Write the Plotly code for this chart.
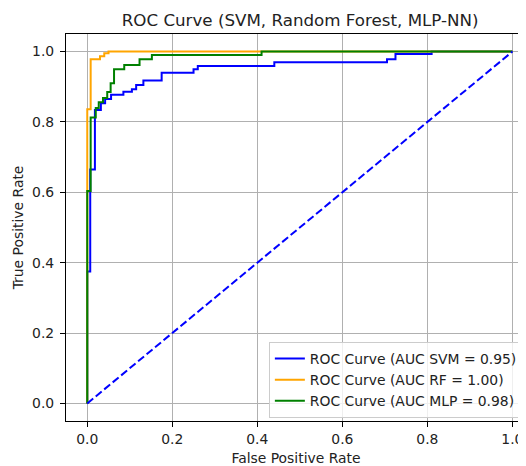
""" ROC curves of SVM, Random Forest and MLP-NN classifiers with plotly. """

import plotly.graph_objects as go

# corner points of each ROC curve (false positive rate, true positive rate)
fpr_svm = [0.0, 0.0, 0.007, 0.007, 0.018, 0.018, 0.032, 0.032, 0.042, 0.042,
           0.056, 0.056, 0.085, 0.085, 0.105, 0.105, 0.115, 0.115, 0.132, 0.132,
           0.175, 0.175, 0.25, 0.25, 0.26, 0.26, 0.44, 0.44, 0.705, 0.705,
           0.725, 0.725, 0.81, 0.81, 1.0]
tpr_svm = [0.0, 0.375, 0.375, 0.665, 0.665, 0.834, 0.834, 0.853, 0.853, 0.865,
           0.865, 0.877, 0.877, 0.886, 0.886, 0.893, 0.893, 0.905, 0.905, 0.918,
           0.918, 0.94, 0.94, 0.95, 0.95, 0.959, 0.959, 0.97, 0.97, 0.978,
           0.978, 0.993, 0.993, 1.0, 1.0]

fpr_rf = [0.0, 0.0, 0.008, 0.008, 0.03, 0.03, 0.04, 0.04, 0.05, 0.05, 1.0]
tpr_rf = [0.0, 0.836, 0.836, 0.978, 0.978, 0.987, 0.987, 0.995, 0.995, 1.0, 1.0]

fpr_mlp = [0.0, 0.0, 0.008, 0.008, 0.02, 0.02, 0.027, 0.027, 0.037, 0.037,
           0.047, 0.047, 0.055, 0.055, 0.063, 0.063, 0.087, 0.087, 0.123, 0.123,
           0.152, 0.152, 0.41, 0.41, 1.0]
tpr_mlp = [0.0, 0.604, 0.604, 0.813, 0.813, 0.84, 0.84, 0.856, 0.856, 0.868,
           0.868, 0.885, 0.885, 0.91, 0.91, 0.95, 0.95, 0.962, 0.962, 0.978,
           0.978, 0.99, 0.99, 1.0, 1.0]

chance = [0.0, 1.0]

auc_svm = 0.95
auc_rf = 1.00
auc_mlp = 0.98

tick_vals = [0.0, 0.2, 0.4, 0.6, 0.8, 1.0]

font = "DejaVu Sans, Liberation Sans, sans-serif"

# the page body adds an 8px margin, so the figure is 8px smaller than the window
fig_w = 518
fig_h = 458

trace1 = go.Scatter(
    x = fpr_svm,
    y = tpr_svm,
    mode = "lines",
    name = "ROC Curve (AUC SVM = %.2f)" % auc_svm,
    line = dict(color = "#0000ff", width = 2),
    )
trace2 = go.Scatter(
    x = fpr_rf,
    y = tpr_rf,
    mode = "lines",
    name = "ROC Curve (AUC RF = %.2f)" % auc_rf,
    line = dict(color = "#ffa500", width = 2),
    )
trace3 = go.Scatter(
    x = fpr_mlp,
    y = tpr_mlp,
    mode = "lines",
    name = "ROC Curve (AUC MLP = %.2f)" % auc_mlp,
    line = dict(color = "#008000", width = 2),
    )
trace4 = go.Scatter(
    x = chance,
    y = chance,
    mode = "lines",
    showlegend = False,
    line = dict(color = "#0000ff", width = 2, dash = "7.7px,3.3px"),
    )

axis_style = dict(
    tickvals = tick_vals,
    tickformat = ".1f",
    ticks = "outside",
    ticklen = 5,
    tickwidth = 1.1,
    tickcolor = "#000000",
    showline = True,
    linecolor = "#000000",
    linewidth = 1.1,
    showgrid = True,
    gridcolor = "#b0b0b0",
    gridwidth = 1.1,
    zeroline = False,
    automargin = False,
    tickfont = dict(size = 13.9, color = "#222222"),
    )

layout = go.Layout(
    width = fig_w,
    height = fig_h,
    margin = dict(l = 58, r = 0, t = 26, b = 45),
    paper_bgcolor = "#ffffff",
    plot_bgcolor = "#ffffff",
    font = dict(family = font, size = 13.9, color = "#222222"),
    title = dict(
        text = "ROC Curve (SVM, Random Forest, MLP-NN)",
        xref = "paper",
        x = 0.509,
        xanchor = "center",
        y = 1 - 12 / fig_h,
        yanchor = "middle",
        font = dict(size = 16.7, color = "#222222"),
        ),
    xaxis = dict(
        axis_style,
        range = [-0.05, 1.032],
        mirror = True,
        title = dict(text = "False Positive Rate", standoff = 7, font = dict(size = 13.9)),
        ),
    yaxis = dict(
        axis_style,
        range = [-0.05, 1.05],
        mirror = False,
        ticklabelstandoff = 3,
        title = dict(text = "True Positive Rate", standoff = 5, font = dict(size = 13.9)),
        ),
    legend = dict(
        x = 0.441,
        y = 0.204,
        xanchor = "left",
        yanchor = "top",
        bgcolor = "rgba(255,255,255,0.8)",
        bordercolor = "#cccccc",
        borderwidth = 1,
        font = dict(size = 13.9, color = "#222222"),
        ),
    )

fig = go.Figure(data = [trace1, trace2, trace3, trace4], layout = layout)
fig.write_html("out.html")
